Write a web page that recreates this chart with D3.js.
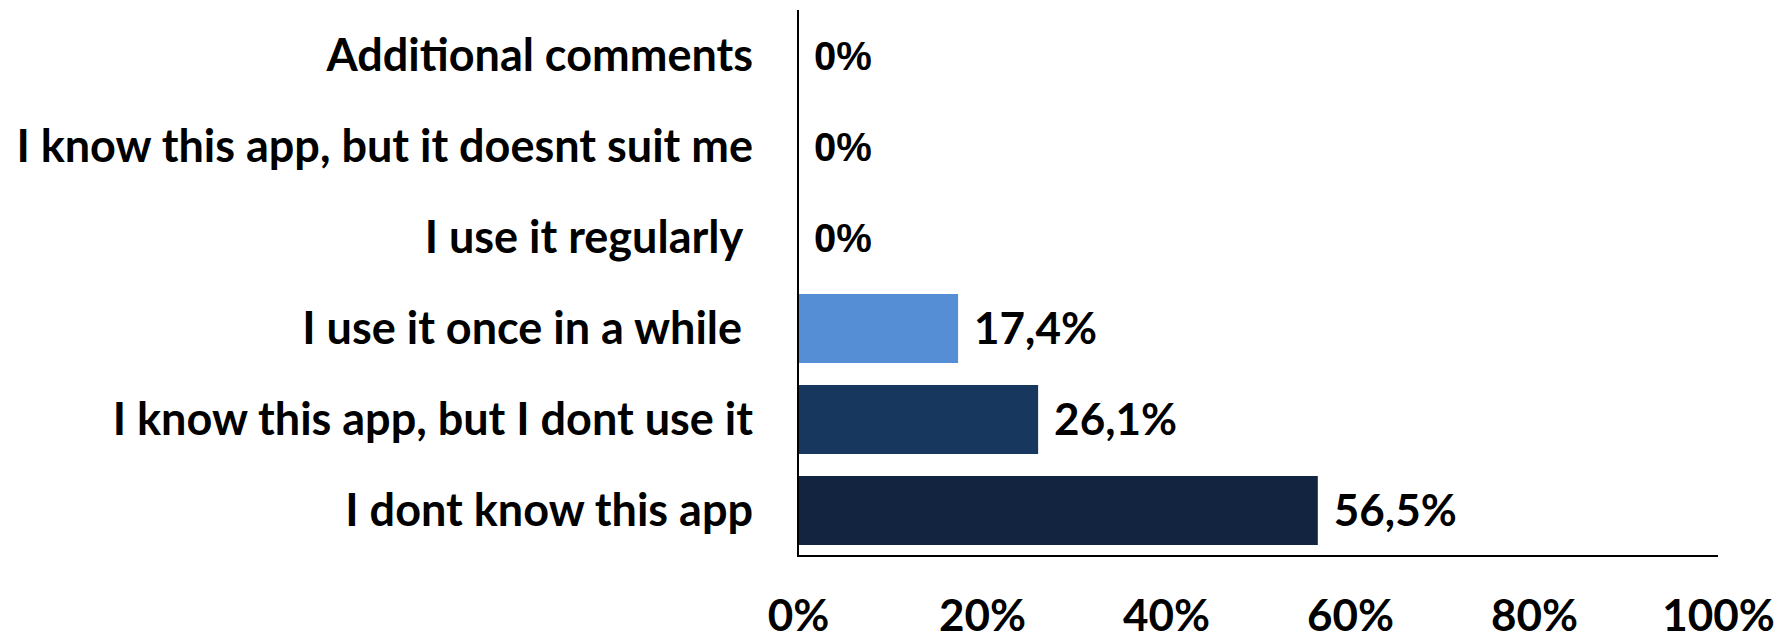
<!DOCTYPE html>
<html>
<head>
<meta charset="utf-8">
<script src="https://cdn.jsdelivr.net/npm/d3@7/dist/d3.min.js"></script>
<style>
  html, body { margin: 0; padding: 0; background: #ffffff; }
  svg { display: block; }
  text { white-space: pre; }
</style>
</head>
<body>
<script>
// Survey answers, top to bottom
const categories = [
  "Additional comments",
  "I know this app, but it doesnt suit me",
  "I use it regularly ",
  "I use it once in a while ",
  "I know this app, but I dont use it",
  "I dont know this app"
];
const values = [0, 0, 0, 17.4, 26.1, 56.5];
const valueLabels = ["0%", "0%", "0%", "17,4%", "26,1%", "56,5%"];
const barColors = ["#558ED5", "#558ED5", "#558ED5", "#558ED5", "#17375E", "#12243F"];
const tickValues = [0, 20, 40, 60, 80, 100];

const W = 1791, H = 636;
const plotLeft = 798, plotRight = 1718, plotTop = 10, plotBottom = 556;
const mainFont = "Lato, 'Noto Sans', sans-serif";

const svg = d3.select("body").append("svg")
  .attr("width", W).attr("height", H);

const x = d3.scaleLinear().domain([0, 100]).range([plotLeft, plotRight]);
const y = d3.scaleBand().domain(categories).range([plotTop, plotBottom])
  .paddingInner(0.242).paddingOuter(0.121);

// Bars
svg.append("g").selectAll("rect")
  .data(categories)
  .join("rect")
  .attr("x", x(0))
  .attr("y", d => y(d))
  .attr("width", (d, i) => x(values[i]) - x(0))
  .attr("height", y.bandwidth())
  .attr("fill", (d, i) => barColors[i]);

// Category axis
const yAxis = svg.append("g")
  .attr("transform", `translate(${plotLeft},0)`)
  .call(d3.axisLeft(y).tickSize(0).tickPadding(45));
yAxis.select(".domain").remove();
yAxis.selectAll("text")
  .attr("font-family", mainFont)
  .attr("font-weight", 700)
  .attr("font-size", 45)
  .attr("fill", "#000")
  .attr("dy", "0.35em");

// Value axis
const xAxis = svg.append("g")
  .attr("transform", `translate(0,${plotBottom})`)
  .call(d3.axisBottom(x).tickValues(tickValues).tickFormat(d => d + "%")
    .tickSize(0).tickPadding(44));
xAxis.select(".domain").remove();
xAxis.selectAll("text")
  .attr("font-family", mainFont)
  .attr("font-weight", 700)
  .attr("font-size", 44)
  .attr("fill", "#000");

// Axis lines
svg.append("line")
  .attr("x1", x(0)).attr("x2", x(0))
  .attr("y1", plotTop).attr("y2", plotBottom)
  .attr("stroke", "#000").attr("stroke-width", 2);
svg.append("line")
  .attr("x1", x(0) - 1).attr("x2", x(100))
  .attr("y1", plotBottom).attr("y2", plotBottom)
  .attr("stroke", "#000").attr("stroke-width", 2);

// Value labels
svg.append("g").selectAll("text")
  .data(categories)
  .join("text")
  .attr("x", (d, i) => x(values[i]) + 16)
  .attr("y", d => y(d) + y.bandwidth() / 2)
  .attr("dy", "0.36em")
  .attr("font-family", (d, i) => values[i] === 0 ? "'Liberation Sans', Arial, sans-serif" : mainFont)
  .attr("font-size", (d, i) => values[i] === 0 ? 40 : 44)
  .attr("font-weight", 700)
  .attr("fill", "#000")
  .text((d, i) => valueLabels[i]);
</script>
</body>
</html>
